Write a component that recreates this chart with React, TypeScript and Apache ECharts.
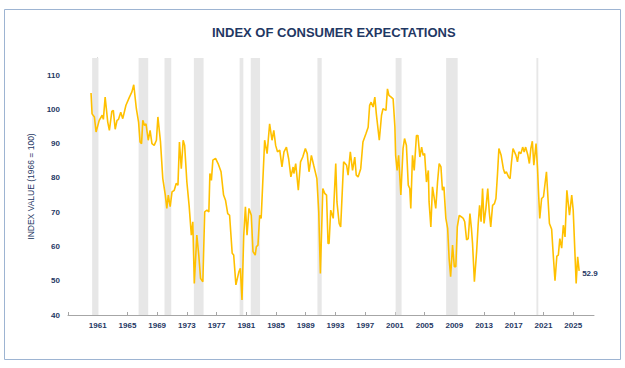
import React, { useEffect, useRef } from "react";
import * as echarts from "echarts";

const TITLE = "INDEX OF CONSUMER EXPECTATIONS";
const Y_NAME = "INDEX VALUE (1966 = 100)";
const BASE_YEAR = 1961;

const years: number[] = [
  1960.1, 1960.24, 1960.55, 1960.78, 1961.2, 1961.6, 1961.76, 1962.0, 1962.35, 1962.57, 1962.9,
  1963.1, 1963.35, 1963.6, 1963.8, 1964.1, 1964.37, 1964.8, 1965.27, 1965.6, 1965.85, 1966.2,
  1966.5, 1966.7, 1966.9, 1967.07, 1967.3, 1967.5, 1967.8, 1968.05, 1968.3, 1968.6, 1968.9,
  1969.1, 1969.45, 1969.76, 1970.1, 1970.3, 1970.5, 1970.75, 1971.0, 1971.3, 1971.56, 1971.8,
  1972.0, 1972.25, 1972.5, 1972.7, 1973.0, 1973.3, 1973.6, 1973.8, 1974.0, 1974.34, 1974.6,
  1974.84, 1975.15, 1975.4, 1975.7, 1975.96, 1976.1, 1976.3, 1976.5, 1976.86, 1977.2, 1977.6,
  1977.94, 1978.2, 1978.5, 1978.75, 1979.1, 1979.3, 1979.6, 1980.0, 1980.2, 1980.42, 1980.65,
  1980.88, 1981.1, 1981.36, 1981.67, 1981.9, 1982.2, 1982.35, 1982.57, 1982.8, 1983.0, 1983.2,
  1983.47, 1983.8, 1984.14, 1984.46, 1984.7, 1984.95, 1985.2, 1985.5, 1985.8, 1986.07, 1986.4,
  1986.7, 1987.0, 1987.3, 1987.4, 1987.65, 1988.0, 1988.3, 1988.6, 1988.95, 1989.2, 1989.44,
  1989.76, 1990.07, 1990.5, 1990.75, 1990.97, 1991.3, 1991.55, 1991.8, 1992.0, 1992.14, 1992.36,
  1992.7, 1993.04, 1993.2, 1993.5, 1993.7, 1994.1, 1994.5, 1994.7, 1995.0, 1995.3, 1995.6,
  1995.8, 1996.05, 1996.4, 1996.7, 1997.1, 1997.4, 1997.6, 1997.8, 1998.07, 1998.3, 1998.5,
  1998.9, 1999.2, 1999.4, 1999.8, 2000.0, 2000.2, 2000.5, 2000.76, 2001.0, 2001.1, 2001.3,
  2001.5, 2001.8, 2002.1, 2002.3, 2002.55, 2002.8, 2003.0, 2003.14, 2003.37, 2003.6, 2003.9,
  2004.1, 2004.36, 2004.6, 2004.8, 2005.0, 2005.25, 2005.5, 2005.6, 2005.84, 2006.06, 2006.3,
  2006.5, 2006.74, 2006.96, 2007.2, 2007.4, 2007.6, 2007.86, 2008.1, 2008.3, 2008.5, 2008.76,
  2009.0, 2009.2, 2009.4, 2009.66, 2009.97, 2010.2, 2010.4, 2010.65, 2010.87, 2011.1, 2011.3,
  2011.45, 2011.7, 2012.0, 2012.2, 2012.4, 2012.6, 2012.8, 2013.0, 2013.25, 2013.5, 2013.7,
  2013.9, 2014.15, 2014.4, 2014.6, 2014.8, 2015.0, 2015.3, 2015.6, 2015.8, 2016.0, 2016.3,
  2016.5, 2016.7, 2016.9, 2017.3, 2017.5, 2017.7, 2017.96, 2018.2, 2018.4, 2018.6, 2018.9,
  2019.1, 2019.3, 2019.5, 2019.7, 2020.0, 2020.2, 2020.35, 2020.5, 2020.75, 2021.0, 2021.4,
  2021.8, 2022.1, 2022.3, 2022.55, 2022.8, 2023.0, 2023.2, 2023.45, 2023.67, 2023.9, 2024.15,
  2024.5, 2024.8, 2025.0, 2025.4, 2025.6, 2025.8,
];

const values: number[] = [
  104.8, 98.7, 97.8, 93.4, 96.8, 98.3, 97.1, 103.6, 96.3, 93.9, 99.4,
  99.7, 94.2, 96.8, 97.1, 99.2, 97.3, 101.2, 103.6, 105.1, 107.2, 100.2,
  96.3, 90.5, 90.0, 96.8, 95.3, 95.8, 91.0, 93.9, 90.0, 89.5, 91.0,
  97.8, 90.5, 79.8, 75.0, 71.1, 75.0, 71.6, 75.9, 76.4, 78.4, 77.9,
  90.5, 82.7, 91.0, 89.5, 78.8, 72.0, 63.3, 67.2, 49.2, 63.3, 57.5,
  50.7, 49.7, 70.1, 70.6, 70.1, 81.3, 79.3, 85.2, 85.7, 84.2, 81.8,
  75.0, 73.5, 69.6, 69.1, 58.0, 57.5, 48.8, 52.6, 53.6, 44.4, 63.0,
  71.6, 63.3, 71.1, 69.1, 58.5, 57.5, 59.9, 60.4, 69.1, 68.2, 77.9,
  91.0, 87.1, 95.8, 91.0, 93.9, 89.5, 87.6, 88.1, 83.2, 87.6, 89.0,
  85.6, 80.3, 83.2, 81.3, 84.2, 76.4, 84.7, 86.1, 88.6, 87.1, 81.8,
  86.6, 83.7, 79.8, 70.1, 52.1, 76.9, 75.5, 75.0, 60.9, 60.9, 70.6,
  68.2, 84.2, 73.0, 66.7, 65.7, 84.7, 83.7, 80.8, 87.6, 82.2, 86.1,
  80.8, 80.3, 82.7, 90.5, 92.9, 94.8, 101.2, 102.1, 100.7, 103.6, 98.7,
  91.0, 98.3, 100.2, 99.7, 106.0, 104.1, 103.6, 103.1, 94.9, 86.6, 82.2,
  86.6, 75.0, 88.6, 91.5, 89.5, 77.9, 76.9, 71.1, 86.6, 82.2, 92.4,
  92.4, 86.1, 89.0, 86.6, 87.1, 78.8, 82.2, 73.0, 65.7, 77.4, 74.0,
  71.1, 78.8, 84.2, 83.2, 76.4, 77.4, 68.2, 65.3, 56.5, 51.2, 60.4,
  54.1, 54.1, 65.7, 69.1, 68.6, 68.2, 67.2, 61.9, 62.3, 69.6, 65.3,
  60.9, 49.7, 58.5, 66.2, 72.0, 67.2, 76.9, 66.7, 71.1, 76.9, 70.1,
  65.7, 72.0, 72.5, 74.0, 80.8, 88.6, 86.6, 82.7, 81.3, 81.8, 80.3,
  79.8, 84.7, 88.6, 86.6, 84.7, 87.6, 87.1, 89.0, 87.6, 89.0, 86.6,
  84.2, 88.6, 90.7, 83.7, 90.0, 82.7, 75.0, 68.2, 74.0, 74.5, 81.8,
  66.7, 65.0, 58.0, 50.0, 57.2, 57.5, 62.3, 59.5, 66.2, 62.8, 76.4,
  69.1, 75.0, 70.6, 49.2, 57.0, 52.9,
];

const recessions: [number, number][] = [
  [1960.25, 1961.1],
  [1966.5, 1967.8],
  [1969.99, 1970.9],
  [1973.94, 1975.25],
  [1980.1, 1980.6],
  [1981.6, 1982.85],
  [1990.57, 1991.15],
  [2001.1, 2001.9],
  [2007.9, 2009.45],
  [2020.05, 2020.3],
];

const NAVY = "#1f3864";
const FONT = "Liberation Sans, Arial, sans-serif";

export default function App() {
  const ref = useRef<HTMLDivElement>(null);
  useEffect(() => {
    if (!ref.current) return;
    const chart = echarts.init(ref.current, undefined, { renderer: "svg" });
    const data = years.map((y, i) => [y - BASE_YEAR, values[i]]);
    chart.setOption({
      animation: false,
      backgroundColor: "#ffffff",
      title: {
        text: TITLE,
        left: 207,
        top: 21,
        textStyle: { color: NAVY, fontSize: 13, fontWeight: "bold", fontFamily: FONT },
      },
      graphic: [
        {
          type: "rect",
          shape: { x: 4.5, y: 9.5, width: 616, height: 350 },
          style: { fill: "none", stroke: "#9db4d2", lineWidth: 1 },
          silent: true,
        },
      ],
      grid: { left: 68, right: 31, top: 58, bottom: 53 },
      xAxis: {
        type: "value",
        min: -4,
        max: 66.8,
        interval: 4,
        axisLine: { show: true, lineStyle: { color: "#a6a6a6", width: 1 } },
        axisTick: { show: true, inside: true, length: 3, lineStyle: { color: "#a6a6a6" } },
        splitLine: { show: false },
        axisLabel: {
          color: NAVY,
          fontSize: 8,
          fontWeight: "bold",
          fontFamily: FONT,
          margin: 6,
          showMaxLabel: false,
          formatter: (v: number) => (v < 0 ? "" : String(Math.round(v + BASE_YEAR))),
        },
      },
      yAxis: {
        type: "value",
        min: 40,
        max: 115,
        interval: 10,
        name: Y_NAME,
        nameLocation: "middle",
        nameGap: 24,
        nameTextStyle: { color: NAVY, fontSize: 8.5, fontFamily: FONT },
        axisLine: { show: true, lineStyle: { color: "#a6a6a6", width: 1 } },
        axisTick: { show: true, length: 4, lineStyle: { color: "#a6a6a6" } },
        splitLine: { show: false },
        axisLabel: {
          color: NAVY,
          fontSize: 8,
          fontWeight: "bold",
          fontFamily: FONT,
          margin: 8,
          showMaxLabel: false,
          formatter: (v: number) => (v > 110 ? "" : String(v)),
        },
      },
      series: [
        {
          type: "line",
          data,
          showSymbol: false,
          symbol: "none",
          lineStyle: { color: "#ffc000", width: 1.6 },
          itemStyle: { color: "#ffc000" },
          z: 3,
          endLabel: {
            show: true,
            formatter: String(values[values.length - 1]),
            color: NAVY,
            fontSize: 8,
            fontWeight: "bold",
            fontFamily: FONT,
            distance: 3,
            offset: [0, 3],
          },
          markArea: {
            silent: true,
            itemStyle: { color: "#e7e7e7" },
            data: recessions.map(([a, b]) => [{ xAxis: a - BASE_YEAR }, { xAxis: b - BASE_YEAR }]),
          },
        },
      ],
    });
    return () => chart.dispose();
  }, []);
  return <div ref={ref} style={{ position: "fixed", left: 0, top: 0, width: 625, height: 368 }} />;
}
